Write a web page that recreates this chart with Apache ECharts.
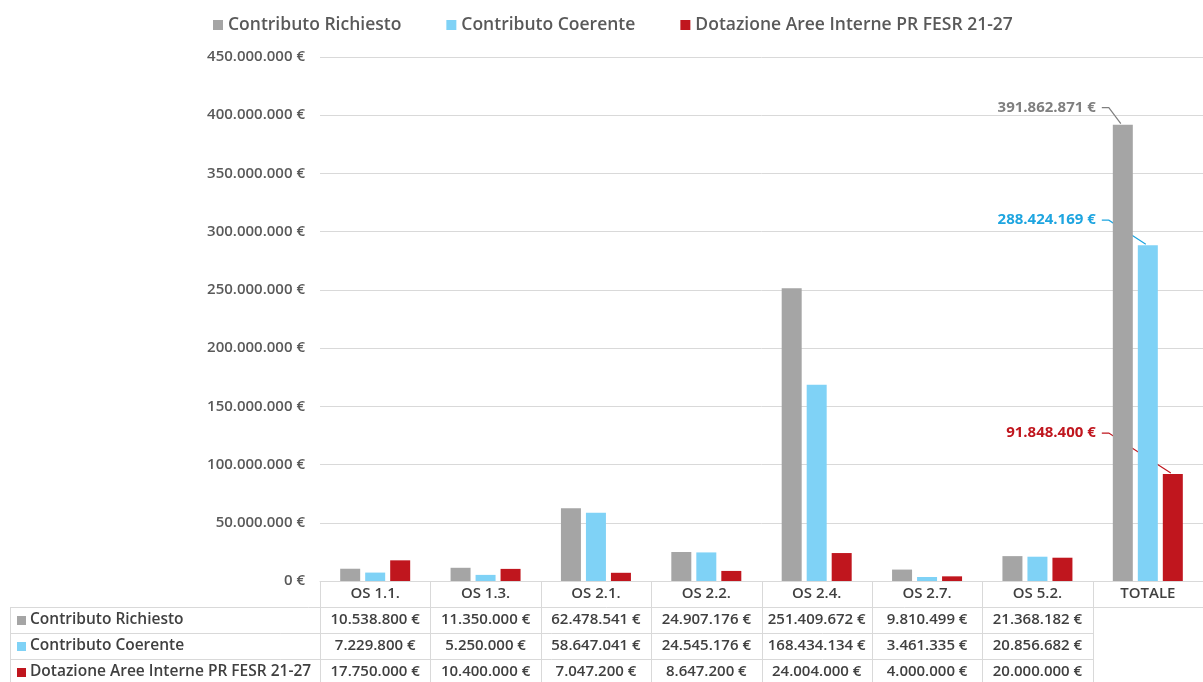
<!DOCTYPE html>
<html>
<head>
<meta charset="utf-8">
<script src="https://cdn.jsdelivr.net/npm/echarts@6/dist/echarts.min.js"></script>
<style>
html,body{margin:0;padding:0;background:#fff;overflow:hidden;}
#c{width:1203px;height:682px;}
</style>
</head>
<body>
<div id="c"></div>
<script>
const categories = ['OS 1.1.', 'OS 1.3.', 'OS 2.1.', 'OS 2.2.', 'OS 2.4.', 'OS 2.7.', 'OS 5.2.', 'TOTALE'];
const seriesNames = ['Contributo Richiesto', 'Contributo Coerente', 'Dotazione Aree Interne PR FESR 21-27'];
const richiesto = [10538800, 11350000, 62478541, 24907176, 251409672, 9810499, 21368182, 391862871];
const coerente = [7229800, 5250000, 58647041, 24545176, 168434134, 3461335, 20856682, 288424169];
const dotazione = [17750000, 10400000, 7047200, 8647200, 24004000, 4000000, 20000000, 91848400];
const yMin = 0, yMax = 450000000, yStep = 50000000;
const tableCols = 7; // data rows show the first 7 categories only

const barColors = ['#a5a5a5', '#7fd2f6', '#c0161e'];
const labelColors = ['#7f7f7f', '#1ea5e0', '#c0161e'];
const textColor = '#404040';
const lineColor = '#d9d9d9';
const FONT = '"Open Sans", sans-serif';
const BAR_W = 20, BAR_GAP = 5;

function fmt(v) {
  return String(Math.round(v)).replace(/\B(?=(\d{3})+(?!\d))/g, '.') + ' €';
}

const allData = [richiesto, coerente, dotazione];
const chart = echarts.init(document.getElementById('c'));

const option = {
  animation: false,
  backgroundColor: '#fff',
  textStyle: { fontFamily: FONT },
  legend: {
    left: 208, top: 11,
    itemWidth: 10, itemHeight: 10, itemGap: 45,
    icon: 'rect',
    textStyle: { fontFamily: FONT, fontSize: 17.5, fontWeight: 600, color: '#595959' },
    data: seriesNames
  },
  grid: { left: 320, right: -6, top: 57, bottom: 101, containLabel: false },
  xAxis: {
    type: 'category',
    data: categories,
    axisLine: { show: true, lineStyle: { color: lineColor } },
    axisTick: { show: false },
    axisLabel: { color: textColor, fontFamily: FONT, fontSize: 15, fontWeight: 600, margin: 5, interval: 0 }
  },
  yAxis: {
    type: 'value',
    min: yMin, max: yMax, interval: yStep,
    axisLine: { show: false },
    axisTick: { show: false },
    splitLine: { lineStyle: { color: lineColor, width: 1 } },
    axisLabel: { color: '#595959', fontFamily: FONT, fontSize: 15, fontWeight: 600, margin: 15, formatter: fmt }
  },
  series: allData.map((d, i) => ({
    name: seriesNames[i],
    type: 'bar',
    data: d,
    barWidth: BAR_W,
    barGap: (BAR_GAP / BAR_W * 100) + '%',
    itemStyle: { color: barColors[i] }
  }))
};
chart.setOption(option);

function buildGraphics() {
  const c0 = chart.convertToPixel({ xAxisIndex: 0 }, 0);
  const c1 = chart.convertToPixel({ xAxisIndex: 0 }, 1);
  const bw = c1 - c0;
  const x0 = c0 - bw / 2;
  const yZero = chart.convertToPixel({ yAxisIndex: 0 }, 0);
  const rowH = 26;
  const tableLeft = 10;
  const W = 1203;
  const els = [];
  const ls = { stroke: lineColor, lineWidth: 1 };
  const ncat = categories.length;
  for (let i = 0; i <= ncat; i++) {
    const x = Math.round(x0 + i * bw) + 0.5;
    els.push({ type: 'line', shape: { x1: x, y1: yZero, x2: x, y2: yZero + rowH }, style: ls, silent: true });
  }
  for (let i = 0; i <= tableCols; i++) {
    const x = Math.round(x0 + i * bw) + 0.5;
    els.push({ type: 'line', shape: { x1: x, y1: yZero + rowH, x2: x, y2: yZero + rowH * 4 }, style: ls, silent: true });
  }
  els.push({ type: 'line', shape: { x1: tableLeft + 0.5, y1: yZero + rowH, x2: tableLeft + 0.5, y2: yZero + rowH * 4 }, style: ls, silent: true });
  const hy1 = Math.round(yZero + rowH) + 0.5;
  els.push({ type: 'line', shape: { x1: tableLeft, y1: hy1, x2: W, y2: hy1 }, style: ls, silent: true });
  const xEnd = Math.round(x0 + tableCols * bw) + 0.5;
  for (let r = 2; r <= 4; r++) {
    const y = Math.round(yZero + rowH * r) + 0.5;
    els.push({ type: 'line', shape: { x1: tableLeft, y1: y, x2: xEnd, y2: y }, style: ls, silent: true });
  }
  for (let s = 0; s < 3; s++) {
    const cy = yZero + rowH * (s + 1) + rowH / 2;
    els.push({ type: 'rect', shape: { x: 17, y: Math.round(cy - 4.5), width: 9, height: 9 }, style: { fill: barColors[s] }, silent: true });
    els.push({ type: 'text', x: 30, y: cy, style: { text: seriesNames[s], fill: textColor, font: '600 15.5px ' + FONT, textAlign: 'left', textVerticalAlign: 'middle' }, silent: true });
    for (let i = 0; i < tableCols; i++) {
      const cx = x0 + i * bw + bw / 2;
      els.push({ type: 'text', x: cx, y: cy, style: { text: fmt(allData[s][i]), fill: textColor, font: '600 15px ' + FONT, textAlign: 'center', textVerticalAlign: 'middle' }, silent: true });
    }
  }
  const ti = ncat - 1;
  const tc = chart.convertToPixel({ xAxisIndex: 0 }, ti);
  const labelDy = [-17, -25, -41];
  for (let s = 0; s < 3; s++) {
    const barX = tc + (s - 1) * (BAR_W + BAR_GAP);
    const barTop = chart.convertToPixel({ yAxisIndex: 0 }, allData[s][ti]);
    const ly = barTop + labelDy[s];
    const lx = tc - 52;
    els.push({ type: 'text', x: lx, y: ly, style: { text: fmt(allData[s][ti]), fill: labelColors[s], font: 'bold 15px ' + FONT, textAlign: 'right', textVerticalAlign: 'middle' }, silent: true });
    els.push({ type: 'polyline', shape: { points: [[lx + 6, ly], [lx + 13, ly], [barX - 2, barTop - 1]] }, style: { stroke: labelColors[s], lineWidth: 1.2, fill: null }, silent: true });
  }
  chart.setOption({ graphic: { elements: els } });
}
buildGraphics();
</script>
</body>
</html>
